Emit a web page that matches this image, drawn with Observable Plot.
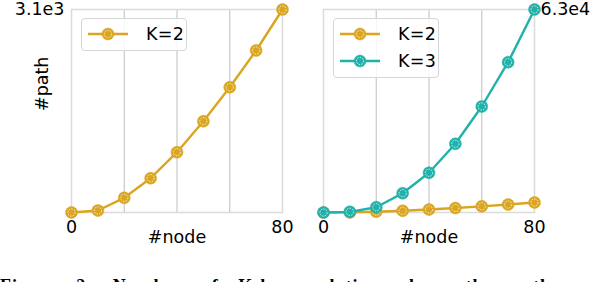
<!DOCTYPE html>
<html>
<head>
<meta charset="utf-8">
<script src="https://cdn.jsdelivr.net/npm/d3@7"></script>
<script src="https://cdn.jsdelivr.net/npm/@observablehq/plot@0.6"></script>
<style>
  html, body { margin: 0; padding: 0; background: #fff; overflow: hidden; }
  body { width: 600px; height: 282px; position: relative; font-family: "DejaVu Sans", sans-serif; }
  #left { position: absolute; left: 0; top: 0; }
  #right { position: absolute; left: 300px; top: 0; }
  .legend { position: absolute; border: 1.3px solid #d6d6d6; border-radius: 4px; background: rgba(255,255,255,0.85); box-sizing: border-box; }
  .legend .row { position: absolute; left: 0; height: 20px; display: flex; align-items: center; }
  .legend .row span { font-size: 17.5px; color: #000; margin-left: 11px; letter-spacing: 0.3px; }
  #caption { position: absolute; left: 0; top: 276px; width: 640px; font-family: "Liberation Serif", serif; font-weight: bold; font-size: 18px; white-space: nowrap; word-spacing: 14px; letter-spacing: 1px; }
</style>
</head>
<body>
<div id="left"></div>
<div id="right"></div>
<div id="caption">Figure 2: Number of K-hop relation along the path</div>
<script>
const nodes = [0, 10, 20, 30, 40, 50, 60, 70, 80];
const pathK2 = [0, 30, 224, 524, 921, 1394, 1913, 2474, 3100];
const pathK3 = [0, 200, 1645, 5990, 12320, 21320, 32900, 46650, 63000];
const seriesNames = ["K=2", "K=3"];
const seriesColors = ["#DAA520", "#20B2AA"];
const xTicks = [0, 80];
const gridX = [20, 40, 60];
const yMaxLeft = 3100, yMaxLeftLabel = "3.1e3";
const yMaxRight = 63000, yMaxRightLabel = "6.3e4";

const toRows = (vals, name) => nodes.map((n, i) => ({node: n, path: vals[i], series: name}));

function markerMarks(rows, color) {
  return [
    Plot.line(rows, {x: "node", y: "path", stroke: color, strokeWidth: 2.4}),
    Plot.dot(rows, {x: "node", y: "path", r: 6, fill: color, stroke: color, strokeWidth: 0.5}),
    Plot.dot(rows, {x: "node", y: "path", r: 3.6, fill: "none", stroke: "#fff", strokeWidth: 0.8, strokeDasharray: "1.5,1.2"})
  ];
}

function panel({data, yMax, yLabelText, yAxisSide, marginLeft, marginRight, showYLabel}) {
  return Plot.plot({
    width: 300, height: 250,
    marginLeft, marginRight, marginTop: 9, marginBottom: 38,
    style: {fontFamily: "DejaVu Sans, sans-serif", fontSize: "17.5px", color: "#000", overflow: "visible"},
    x: {domain: [0, 80]},
    y: {domain: [0, yMax]},
    marks: [
      Plot.ruleX(gridX, {stroke: "#c4c4c4", strokeWidth: 1.1}),
      Plot.frame({stroke: "#dcdcdc", strokeWidth: 1.6}),
      Plot.axisX(xTicks, {tickSize: 0, tickPadding: 8, fontSize: 17.5, label: null}),
      Plot.axisY([yMax], {anchor: yAxisSide, tickSize: 0, tickPadding: yAxisSide === "left" ? 7 : 6, fontSize: 17.5, label: null,
        tickFormat: () => yLabelText}),
      Plot.text(["#node"], {frameAnchor: "bottom", dy: 30, fontSize: 17.5, text: d => d}),
      ...(showYLabel ? [Plot.text(["#path"], {frameAnchor: "left", dx: -29, rotate: -90, fontSize: 17.5, text: d => d})] : []),
      ...data
    ]
  });
}

const left = panel({
  data: markerMarks(toRows(pathK2, seriesNames[0]), seriesColors[0]),
  yMax: yMaxLeft, yLabelText: yMaxLeftLabel, yAxisSide: "left",
  marginLeft: 71, marginRight: 18, showYLabel: true
});
document.getElementById("left").appendChild(left);

const right = panel({
  data: [...markerMarks(toRows(pathK2, seriesNames[0]), seriesColors[0]),
         ...markerMarks(toRows(pathK3, seriesNames[1]), seriesColors[1])],
  yMax: yMaxRight, yLabelText: yMaxRightLabel, yAxisSide: "right",
  marginLeft: 23, marginRight: 66, showYLabel: false
});
document.getElementById("right").appendChild(right);

function legend(x, y, w, names) {
  const box = document.createElement("div");
  box.className = "legend";
  box.style.left = x + "px"; box.style.top = y + "px";
  box.style.width = w + "px"; box.style.height = (6 + names.length * 27) + "px";
  names.forEach((name, i) => {
    const row = document.createElement("div");
    row.className = "row";
    row.style.top = (5 + i * 27) + "px";
    const color = seriesColors[seriesNames.indexOf(name)];
    row.innerHTML = `<svg width="48" height="20" style="margin-left:5px">
      <line x1="1" x2="41" y1="10" y2="10" stroke="${color}" stroke-width="2.4"/>
      <circle cx="21" cy="10" r="6" fill="${color}" stroke="${color}" stroke-width="0.5"/>
      <circle cx="21" cy="10" r="3.6" fill="none" stroke="#fff" stroke-width="0.8" stroke-dasharray="1.5,1.2"/>
    </svg><span>${name}</span>`;
    box.appendChild(row);
  });
  document.body.appendChild(box);
}
legend(81, 18, 106, ["K=2"]);
legend(333, 18, 106, ["K=2", "K=3"]);
</script>
</body>
</html>
